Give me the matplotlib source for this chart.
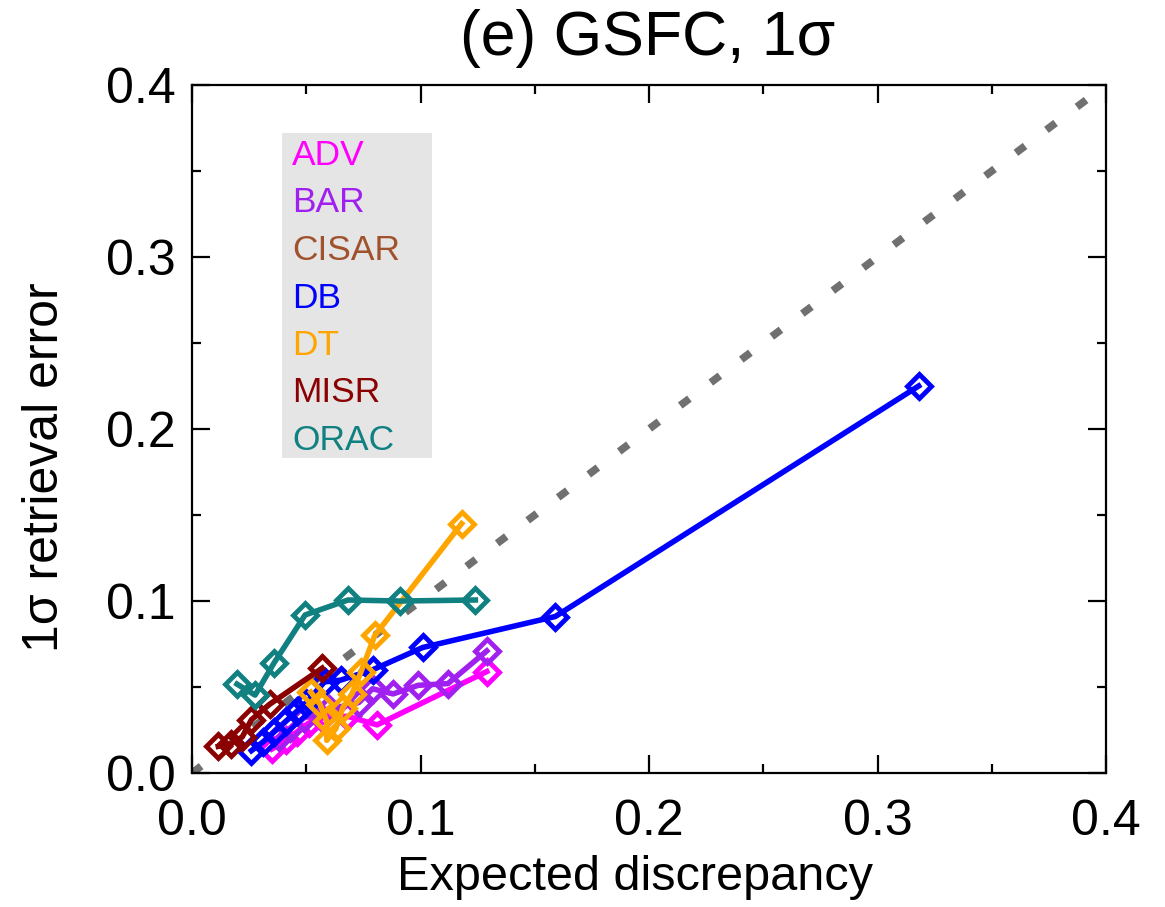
import matplotlib
matplotlib.use("Agg")
import matplotlib.pyplot as plt
from matplotlib.ticker import MultipleLocator

plt.rcParams['font.family'] = ['Liberation Sans', 'DejaVu Sans']

# retrieval names and colours
names = ['ADV', 'BAR', 'CISAR', 'DB', 'DT', 'MISR', 'ORAC']
colors = ['#FF00FF', '#A020F0', '#A0522D', '#0000FF', '#FFA500', '#8B0000', '#108080']

# expected discrepancy (x) and 1-sigma retrieval error (y)
adv_x = [0.035, 0.041, 0.046, 0.051, 0.057, 0.068, 0.081, 0.129]
adv_y = [0.014, 0.019, 0.024, 0.029, 0.032, 0.033, 0.028, 0.059]

bar_x = [0.038, 0.043, 0.049, 0.060, 0.073, 0.079, 0.088, 0.099, 0.112, 0.129]
bar_y = [0.021, 0.026, 0.032, 0.037, 0.041, 0.049, 0.046, 0.051, 0.052, 0.071]

cisar_x = []
cisar_y = []

db_x = [0.026, 0.031, 0.036, 0.041, 0.046, 0.050, 0.058, 0.065, 0.079, 0.101, 0.159, 0.318]
db_y = [0.013, 0.018, 0.024, 0.030, 0.036, 0.041, 0.053, 0.054, 0.060, 0.073, 0.091, 0.225]

dt_x = [0.052, 0.056, 0.059, 0.059, 0.063, 0.066, 0.070, 0.074, 0.080, 0.118]
dt_y = [0.047, 0.040, 0.030, 0.019, 0.026, 0.038, 0.046, 0.059, 0.080, 0.145]

misr_x = [0.0115, 0.017, 0.022, 0.026, 0.034, 0.057]
misr_y = [0.0155, 0.017, 0.021, 0.031, 0.040, 0.061]

orac_x = [0.0197, 0.0276, 0.0359, 0.0495, 0.0683, 0.091, 0.124]
orac_y = [0.0517, 0.0453, 0.064, 0.0919, 0.1006, 0.100, 0.1006]

series_x = [adv_x, bar_x, cisar_x, db_x, dt_x, misr_x, orac_x]
series_y = [adv_y, bar_y, cisar_y, db_y, dt_y, misr_y, orac_y]

one_to_one = [0.0, 0.4]

fig = plt.figure(figsize=(11.65, 9.07), dpi=100)
ax = fig.add_axes([0.1648, 0.1477, 0.7846, 0.7586])

# 1:1 line
ax.plot(one_to_one, one_to_one, color='#707070', lw=5.5, dashes=(1.5, 3.5),
        solid_capstyle='butt', zorder=1)

for sx, sy, c in zip(series_x, series_y, colors):
    if len(sx) == 0:
        continue
    ax.plot(sx, sy, color=c, lw=4, marker='D', ms=12, mfc='none', mew=3.5, zorder=2)

ax.set_xlim(0, 0.4)
ax.set_ylim(0, 0.4)
ax.xaxis.set_major_locator(MultipleLocator(0.1))
ax.yaxis.set_major_locator(MultipleLocator(0.1))
ax.xaxis.set_minor_locator(MultipleLocator(0.05))
ax.yaxis.set_minor_locator(MultipleLocator(0.05))
ax.xaxis.set_major_formatter(plt.FormatStrFormatter('%.1f'))
ax.yaxis.set_major_formatter(plt.FormatStrFormatter('%.1f'))

ax.tick_params(which='both', direction='in', top=True, right=True, width=1.6)
ax.tick_params(which='major', length=13)
ax.tick_params(which='minor', length=6.5)
ax.tick_params(axis='x', which='major', labelsize=36, pad=19)
ax.tick_params(axis='y', which='major', labelsize=36, pad=12)
for sp in ax.spines.values():
    sp.set_linewidth(1.6)

fig.text(635 / 1165, 1 - 890 / 907, 'Expected discrepancy', fontsize=35,
         ha='center', va='baseline')
fig.text(45 / 1165, 1 - 467 / 907, '1σ retrieval error', rotation=90, fontsize=36,
         ha='center', va='center')
fig.text(648 / 1165, 1 - 55 / 907, '(e) GSFC, 1σ', fontsize=45, ha='center',
         va='baseline')

# legend box with coloured names
ax.add_patch(plt.Rectangle((282 / 1165, 1 - 458 / 907), 150 / 1165, 325 / 907,
                           transform=fig.transFigure, facecolor='#E5E5E5',
                           edgecolor='none', zorder=0))
for i, (n, c) in enumerate(zip(names, colors)):
    fig.text(292 / 1165, 1 - (165 + 47.5 * i) / 907, n, color=c, fontsize=25.5,
             ha='left', va='baseline')

fig.savefig('out.png', dpi=100)
